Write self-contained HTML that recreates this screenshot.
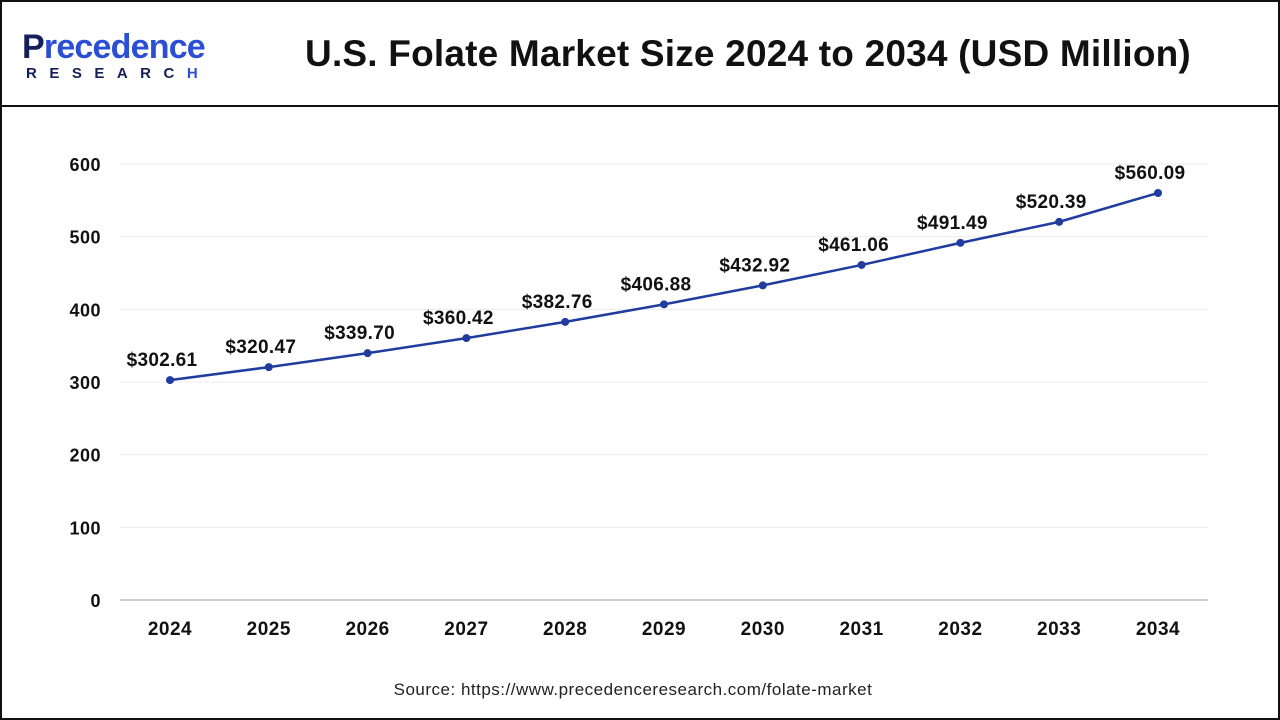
<!DOCTYPE html>
<html><head><meta charset="utf-8"><style>
body{margin:0;width:1280px;height:720px;background:#fff;font-family:"Liberation Sans",sans-serif;overflow:hidden}
#frame{position:absolute;left:0;top:0;width:1276px;height:716px;border:2px solid #111}
#hdr{position:absolute;left:0;top:105px;width:1280px;height:2px;background:#111}
</style></head><body>
<div id="frame"></div>
<div id="hdr"></div>
<div style="position:absolute;left:22px;top:30px">
<div style="font-size:34px;font-weight:bold;color:#2a4fd6;line-height:34px;letter-spacing:-0.8px"><span style="color:#14205a">P</span>recedence</div>
<div style="font-size:15px;font-weight:bold;color:#14205a;letter-spacing:12.5px;margin-top:1px;margin-left:4px">RESEARC<span style="color:#2a4fd6">H</span></div>
</div>
<div style="position:absolute;left:248px;width:1000px;top:33px;text-align:center;font-size:37px;font-weight:bold;color:#111;letter-spacing:0.2px">U.S. Folate Market Size 2024 to 2034 (USD Million)</div>
<svg id="chart" width="1280" height="720" style="position:absolute;left:0;top:0"></svg>
<div style="position:absolute;left:133px;width:1000px;top:680px;text-align:center;font-size:17px;color:#222;letter-spacing:0.5px">Source: https://www.precedenceresearch.com/folate-market</div>
<script>
const years=["2024","2025","2026","2027","2028","2029","2030","2031","2032","2033","2034"];
const values=[302.61,320.47,339.70,360.42,382.76,406.88,432.92,461.06,491.49,520.39,560.09];
const yTicks=[0,100,200,300,400,500,600];
const NS="http://www.w3.org/2000/svg";
const svg=document.getElementById('chart');
const x=i=>170+i*98.8;
const y=v=>600-v*(436/600);
function mk(t,a){const e=document.createElementNS(NS,t);for(const k in a)e.setAttribute(k,a[k]);svg.appendChild(e);return e;}
yTicks.forEach(t=>{
 if(t>0){const g=mk('line',{x1:120,x2:1208,y1:y(t),y2:y(t),stroke:'#ececec','stroke-width':1});
 
 }
 const l=mk('text',{x:101,y:y(t)+7,'text-anchor':'end','font-size':18,'font-weight':'bold',fill:'#111','letter-spacing':0.5});
 l.textContent=t;
 
 
});
const ax=mk('line',{x1:120,x2:1208,y1:600,y2:600,stroke:'#bbb','stroke-width':1.5});


years.forEach((yr,i)=>{
 const l=mk('text',{x:x(i),y:635,'text-anchor':'middle','font-size':19,'font-weight':'bold',fill:'#111','letter-spacing':0.5});
 l.textContent=yr;
 
 
});
const line=mk('polyline',{points:values.map((v,i)=>x(i)+','+y(v)).join(' '),fill:'none',stroke:'#1f3c9e','stroke-width':2.5});


values.forEach((v,i)=>{
 const c=mk('circle',{cx:x(i),cy:y(v),r:4,fill:'#1f3c9e'});
 
 
 const t=mk('text',{x:x(i)-8,y:y(v)-14,'text-anchor':'middle','font-size':19,'font-weight':'bold',fill:'#111','letter-spacing':0.3});
 t.textContent='$'+v.toFixed(2);
 
 
});
</script>
</body></html>
